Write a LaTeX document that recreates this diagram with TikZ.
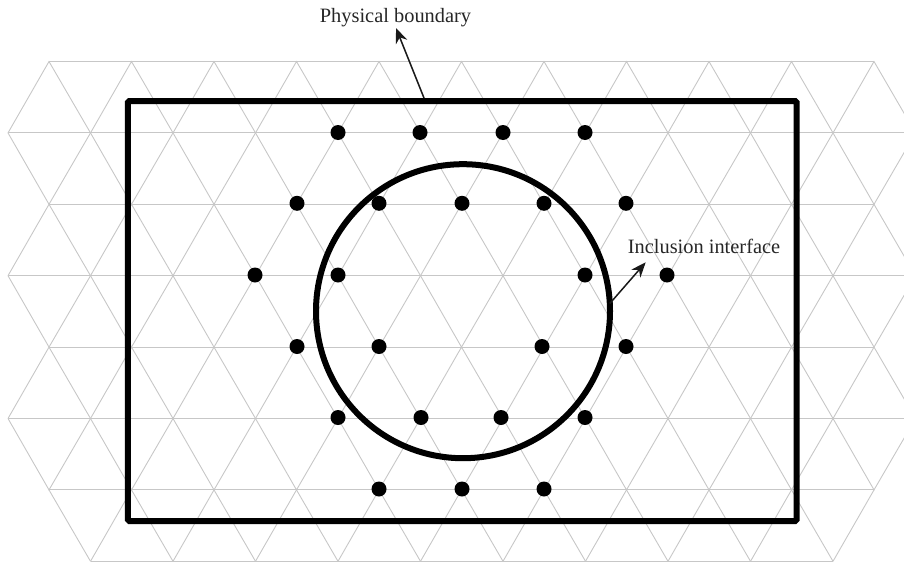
\documentclass[tikz,border=0pt]{standalone}
\usepackage{fontspec}
\setmainfont{Liberation Serif}
\usetikzlibrary{arrows.meta, positioning}
\tikzset{
    meshline/.style = {draw=black!22, line width=0.9pt},
    meshdot/.style  = {circle, fill=black, inner sep=0pt, minimum size=15pt},
    boundary/.style = {rectangle, draw=black, line width=6pt, rounded corners=1.5pt, minimum width=668.7pt, minimum height=420pt, outer sep=0pt},
    inclusion/.style = {circle, draw=black, line width=6pt, minimum size=294pt, outer sep=0pt},
    annotation/.style = {font=\fontsize{20.4}{24}\selectfont, text=black!85, inner sep=0pt},
    arrow/.style = {line width=1.5pt, black!90, -{Stealth[length=15pt, width=12pt]}}
}

\begin{document}
\begin{tikzpicture}[x=1pt, y=-1pt]
    \useasboundingbox (0,0) rectangle (904,562);

    % Mesh
    \begin{scope}
        \clip (0,0) rectangle (904,562);
        \foreach \r in {0,2,4,6} {
            \draw [meshline] (49,61.5+71.4*\r) -- (874,61.5+71.4*\r);
        }
        \foreach \r in {1,3,5} {
            \draw [meshline] (8,61.5+71.4*\r) -- (915.5,61.5+71.4*\r);
        }
        \draw [meshline] (90.5,561.3) -- (833,561.3);
        \foreach \r in {0,2,4} {
            \foreach \k in {0,...,10} {
                \draw [meshline] (8+82.5*\k,61.5+71.4*\r+71.4) -- (49+82.5*\k,61.5+71.4*\r) -- (90.5+82.5*\k,61.5+71.4*\r+71.4);
            }
        }
        \foreach \r in {2,4,6} {
            \foreach \k in {0,...,10} {
                \draw [meshline] (8+82.5*\k,61.5+71.4*\r-71.4) -- (49+82.5*\k,61.5+71.4*\r) -- (90.5+82.5*\k,61.5+71.4*\r-71.4);
            }
        }
        \foreach \k in {0,...,9} {
            \draw [meshline] (49+82.5*\k,489.9) -- (90.5+82.5*\k,561.3);
        }
        \foreach \k in {1,...,10} {
            \draw [meshline] (49+82.5*\k,489.9) -- (8+82.5*\k,561.3);
        }
    \end{scope}

    % Boundaries
    \node (physical) [boundary] at (462.3,311) {};
    \node (interface) [inclusion] at (463,311.2) {};

    % Dots
    \foreach \x in {338,420,503,585} \node (top\x) [meshdot] at (\x,132.5) {};
    \foreach \x in {297,379,462,544,626} \node (upper\x) [meshdot] at (\x,203.3) {};
    \foreach \x in {255,338,585,667} \node (mid\x) [meshdot] at (\x,275) {};
    \foreach \x in {297,379,542,626} \node (lower\x) [meshdot] at (\x,346.5) {};
    \foreach \x in {338,421,501,585} \node (low\x) [meshdot] at (\x,417.5) {};
    \foreach \x in {379,462,544} \node (bottom\x) [meshdot] at (\x,489) {};

    % Labels
    \node (physlabel) [annotation] at (395.5,18) {Physical boundary};
    \node (inclabel) [annotation] at (704,246) {Inclusion interface};

    % Edges
    \coordinate (physstart) at (424,98);
    \coordinate (physend) at (396,28);
    \coordinate (incend) at (645.7,262.3);
    \draw [arrow] (physstart) -- (physend);
    \draw [arrow] (interface.3) -- (incend);
\end{tikzpicture}
\end{document}
